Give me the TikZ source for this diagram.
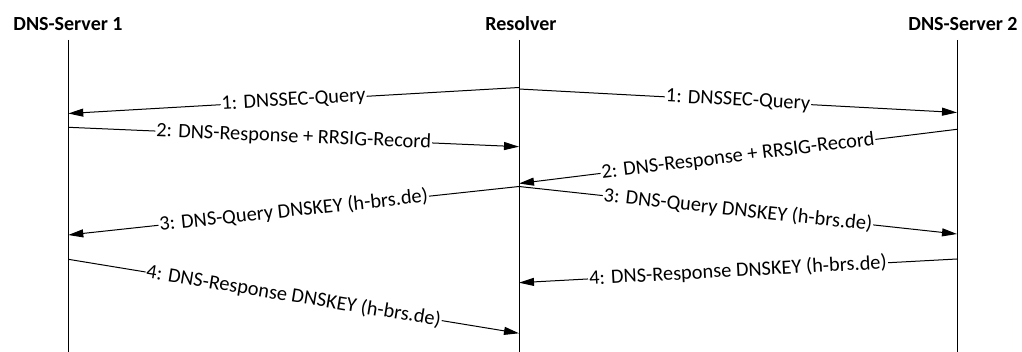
\documentclass[tikz,border=0pt]{standalone}
\usepackage{fontspec}
\setmainfont{Carlito}
\usetikzlibrary{arrows.meta}
\begin{document}
\begin{tikzpicture}[x=1pt,y=-1pt,
  lifeline/.style={line width=1pt},
  msg/.style={line width=1pt,-{Triangle[length=15pt,width=8pt]}},
  msglabel/.style={midway,sloped,fill=white,inner xsep=1pt,inner ysep=0pt,
    font=\fontsize{20.4}{24}\selectfont},
  actor/.style={anchor=base,inner sep=0pt,font=\fontsize{20}{24}\selectfont\bfseries}]
\useasboundingbox (0,0) rectangle (1022,352);

% participants
\node[actor] (ds1) at (68,31) {DNS-Server 1};
\node[actor] (res) at (521,31) {Resolver};
\node[actor] (ds2) at (963,31) {DNS-Server 2};

% lifelines
\coordinate (t1) at (68.3,40);  \coordinate (b1) at (68.3,352);
\coordinate (tr) at (519,40);   \coordinate (br) at (519,352);
\coordinate (t2) at (957,40);   \coordinate (b2) at (957,352);
\draw[lifeline] (t1) -- (b1);
\draw[lifeline] (tr) -- (br);
\draw[lifeline] (t2) -- (b2);

% message end points on the lifelines
\coordinate (r1a) at (519,87.5);  \coordinate (s1a) at (68.3,113.5);
\coordinate (r1b) at (519,89);    \coordinate (s2a) at (957,112.5);
\coordinate (s1b) at (68.3,127.3);\coordinate (r2a) at (519,146.7);
\coordinate (s2b) at (957,129.3); \coordinate (r2b) at (519,183.5);
\coordinate (r3)  at (519,186.5); \coordinate (s1c) at (68.3,235);
                                  \coordinate (s2c) at (957,234);
\coordinate (s1d) at (68.3,259.3);\coordinate (r4a) at (519,333.3);
\coordinate (s2d) at (957,259);   \coordinate (r4b) at (519,282.7);

% messages
\draw[msg] (r1a) -- node[msglabel] {1: DNSSEC-Query} (s1a);
\draw[msg] (r1b) -- node[msglabel] {1: DNSSEC-Query} (s2a);
\draw[msg] (s1b) -- node[msglabel] {2: DNS-Response + RRSIG-Record} (r2a);
\draw[msg] (s2b) -- node[msglabel] {2: DNS-Response + RRSIG-Record} (r2b);
\draw[msg] (r3) -- node[msglabel] {3: DNS-Query DNSKEY (h-brs.de)} (s1c);
\draw[msg] (r3) -- node[msglabel] {3: DNS-Query DNSKEY (h-brs.de)} (s2c);
\draw[msg] (s1d) -- node[msglabel] {4: DNS-Response DNSKEY (h-brs.de)} (r4a);
\draw[msg] (s2d) -- node[msglabel] {4: DNS-Response DNSKEY (h-brs.de)} (r4b);
\end{tikzpicture}
\end{document}
